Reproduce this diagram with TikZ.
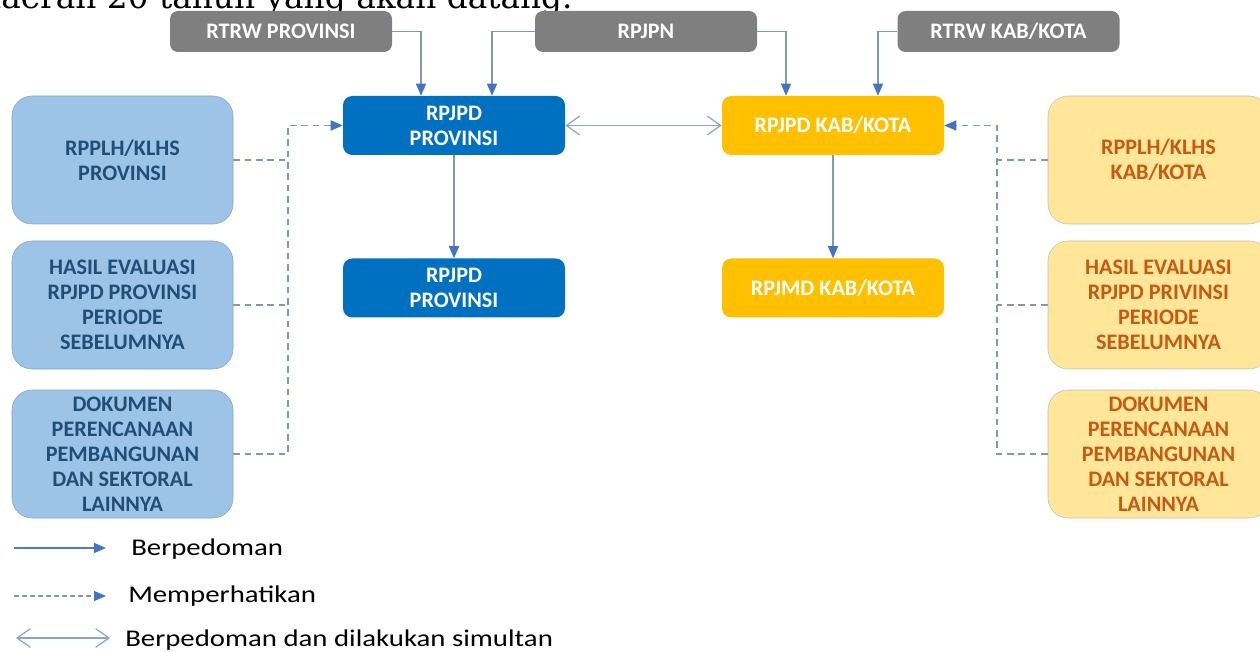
\documentclass[tikz,border=0pt]{standalone}
\usepackage{fontspec}
\setmainfont{Carlito}
\newfontfamily\serifx{DejaVu Serif}
\usetikzlibrary{arrows.meta}
\definecolor{graybox}{HTML}{7F7F7F}
\definecolor{darkblue}{HTML}{0070C0}
\definecolor{gold}{HTML}{FFC000}
\definecolor{lightblue}{HTML}{9DC3E6}
\definecolor{lightyel}{HTML}{FFE699}
\definecolor{navytext}{HTML}{1F4E79}
\definecolor{orangetext}{HTML}{C55A11}
\definecolor{linec}{HTML}{8497B0}
\definecolor{tipc}{HTML}{4472C4}
\definecolor{dblcol}{HTML}{8EA0CC}
\begin{document}
\begin{tikzpicture}[x=0.75pt,y=-0.75pt,
 boxtext/.style={font=\bfseries\fontsize{16.6}{18.75}\selectfont, align=center, inner sep=0pt},
 graybx/.style={boxtext, fill=graybox, text=white, rounded corners=6pt, minimum width=166.5pt, minimum height=30.75pt},
 mainbx/.style={boxtext, rounded corners=7pt, minimum width=166.5pt, minimum height=44.25pt, text=white},
 provbx/.style={mainbx, fill=darkblue},
 kabbx/.style={mainbx, fill=gold},
 sidebx/.style={boxtext, rounded corners=15pt, minimum width=165.75pt, minimum height=96pt},
 lbx/.style={sidebx, fill=lightblue, text=navytext, draw=lightblue!85!black, line width=0.4pt},
 rbx/.style={sidebx, fill=lightyel, text=orangetext, draw=black!25, line width=0.4pt},
 solidc/.style={draw=linec, line width=0.9pt, -{Triangle[length=9pt,width=7.5pt,color=tipc,fill=tipc]}},
 dashc/.style={draw=linec, line width=1.1pt, dash pattern=on 5pt off 3.5pt},
 dashtip/.style={-{Triangle[length=9pt,width=7.5pt,color=tipc,fill=tipc]}},
 dblc/.style={draw=dblcol, line width=0.9pt, {Straight Barb[length=10pt,width=14pt]}-{Straight Barb[length=10pt,width=14pt]}},
 legtext/.style={font=\fontsize{18}{20}\selectfont, anchor=base west, inner sep=0pt}
]
\useasboundingbox (0,0) rectangle (1260,652);
\clip (0,0) rectangle (1260,652);

% cut-off line of text at the top (cut off in the reference as well)
\node[anchor=base west, inner sep=0pt, font=\serifx\fontsize{24.6}{26}\selectfont] (toptext) at (-20,9) {daerah 20 tahun yang akan datang.};

% top gray boxes
\node[graybx] (g1) at (281,31.5) {RTRW PROVINSI};
\node[graybx] (g2) at (646,31.5) {RPJPN};
\node[graybx] (g3) at (1008.5,31.5) {RTRW KAB/KOTA};

% main boxes
\node[provbx] (p1) at (454,125.5) {RPJPD\\PROVINSI};
\node[provbx] (p2) at (454,288) {RPJPD\\PROVINSI};
\node[kabbx] (k1) at (833,125.5) {RPJPD KAB/KOTA};
\node[kabbx] (k2) at (833,288) {RPJMD KAB/KOTA};

% left side boxes
\node[lbx] (L1) at (122.5,160) {RPPLH/KLHS\\PROVINSI};
\node[lbx] (L2) at (122.5,305) {HASIL EVALUASI\\RPJPD PROVINSI\\PERIODE\\SEBELUMNYA};
\node[lbx] (L3) at (122.5,454) {DOKUMEN\\PERENCANAAN\\PEMBANGUNAN\\DAN SEKTORAL\\LAINNYA};

% right side boxes
\node[rbx] (R1) at (1158.5,160) {RPPLH/KLHS\\KAB/KOTA};
\node[rbx] (R2) at (1158.5,305) {HASIL EVALUASI\\RPJPD PRIVINSI\\PERIODE\\SEBELUMNYA};
\node[rbx] (R3) at (1158.5,454) {DOKUMEN\\PERENCANAAN\\PEMBANGUNAN\\DAN SEKTORAL\\LAINNYA};

% solid connectors from top boxes
\draw[solidc] (g1.east) -| ([xshift=-24.75pt]p1.north);
\draw[solidc] (g2.west) -| ([xshift=28.5pt]p1.north);
\draw[solidc] (g2.east) -| ([xshift=-35.25pt]k1.north);
\draw[solidc] (g3.west) -| ([xshift=33.75pt]k1.north);

% vertical connectors
\draw[solidc] (p1.south) -- (p2.north);
\draw[solidc] (k1.south) -- (k2.north);

% simultaneous double arrow
\draw[dblc] (p1.east) -- (k1.west);

% dashed left bus
\coordinate (lbus) at (288,125.5);
\draw[dashc] (L1.east) -- (L1.east -| lbus);
\draw[dashc] (L2.east) -- (L2.east -| lbus);
\draw[dashc,dashtip] (L3.east) -| (lbus) -- (p1.west);

% dashed right bus
\coordinate (rbus) at (997,125.5);
\draw[dashc] (R1.west) -- (R1.west -| rbus);
\draw[dashc] (R2.west) -- (R2.west -| rbus);
\draw[dashc,dashtip] (R3.west) -| (rbus) -- (k1.east);

% legend
\coordinate (la1) at (14,548);
\coordinate (lb1) at (106,548);
\draw[solidc, draw=tipc!80!linec] (la1) -- (lb1);
\node[legtext] (t1) at (131,555) {\scalebox{1.2}[1]{Berpedoman}};

\coordinate (la2) at (14,596);
\coordinate (lb2) at (106,596);
\draw[dashc, dashtip, line width=0.8pt, dash pattern=on 3.5pt off 2.5pt] (la2) -- (lb2);
\node[legtext] (t2) at (128,602) {\scalebox{1.2}[1]{Memperhatikan}};

\coordinate (la3) at (16,638);
\coordinate (lb3) at (110,638);
\draw[dblc] (la3) -- (lb3);
\node[legtext] (t3) at (125,646) {\scalebox{1.2}[1]{Berpedoman dan dilakukan simultan}};
\end{tikzpicture}
\end{document}
